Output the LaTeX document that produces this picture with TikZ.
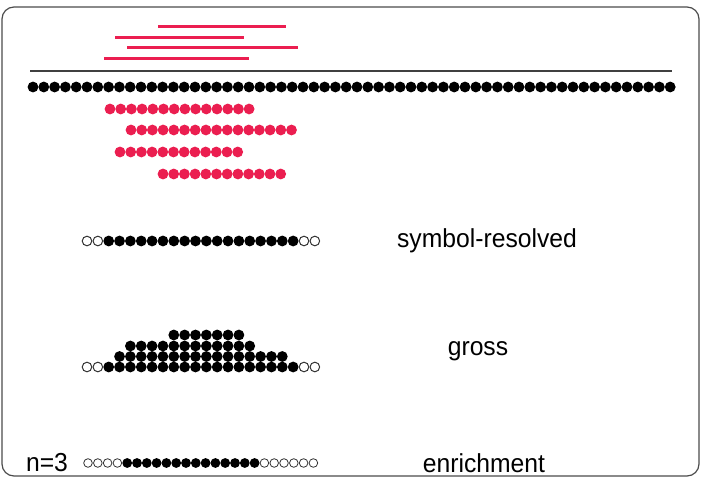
\documentclass[tikz,border=0pt]{standalone}
\usepackage{fontspec}
\setmainfont{Liberation Sans}
\definecolor{rd}{RGB}{235,30,80}
\begin{document}
\begin{tikzpicture}[x=1pt,y=-1pt,
 fd/.style={fill=black,draw=none},
 rdot/.style={fill=rd,draw=none},
 od/.style={draw=black!80,fill=white,line width=1pt},
 rl/.style={draw=rd,line width=3pt},
 lab/.style={font=\fontsize{26}{26}\selectfont,xscale=0.95,inner sep=0pt}]
\useasboundingbox (0,0) rectangle (701,478);
\draw[black!70,line width=1.2pt,rounded corners=12pt] (2,7) rectangle (699,476);
% red lines
\draw[rl] (158,27) -- (286,27);
\draw[rl] (115,38) -- (244,38);
\draw[rl] (127,48) -- (298,48);
\draw[rl] (104,59) -- (249,59);
\draw[black!75,line width=1.5pt] (30,71) -- (672,71);
% top black row
\foreach \i in {0,...,59} \fill[fd] (33+\i*10.8,87) circle (5.4);
% red rows
\foreach \i in {0,...,13} \fill[rdot] (110+\i*10.7,109) circle (5.4);
\foreach \i in {0,...,15} \fill[rdot] (131+\i*10.7,130) circle (5.4);
\foreach \i in {0,...,11} \fill[rdot] (120+\i*10.7,152) circle (5.4);
\foreach \i in {0,...,11} \fill[rdot] (163+\i*10.7,174) circle (5.4);
% symbol-resolved
\foreach \i in {0,1,20,21} \draw[od] (87+\i*10.85,241) circle (4.8);
\foreach \i in {2,...,19} \fill[fd] (87+\i*10.85,241) circle (5.4);
% gross
\foreach \i in {0,1,20,21} \draw[od] (87+\i*10.85,367) circle (4.8);
\foreach \i in {2,...,19} \fill[fd] (87+\i*10.85,367) circle (5.4);
\foreach \i in {3,...,18} \fill[fd] (87+\i*10.85,356.5) circle (5.4);
\foreach \i in {4,...,15} \fill[fd] (87+\i*10.85,346) circle (5.4);
\foreach \i in {8,...,14} \fill[fd] (87+\i*10.85,335) circle (5.4);
% enrichment
\foreach \i in {0,...,3,18,19,...,23} \draw[od,line width=0.8pt] (88+\i*9.8,463) circle (4.3);
\foreach \i in {4,...,17} \fill[fd] (88+\i*9.8,463) circle (4.9);
\node[lab] (sr) at (487,241) {symbol-resolved};
\node[lab] (gr) at (478,351) {gross};
\node[lab] (en) at (484,463) {enrichment};
\node[lab] (n3) at (47,463) {n=3};
\end{tikzpicture}
\end{document}
